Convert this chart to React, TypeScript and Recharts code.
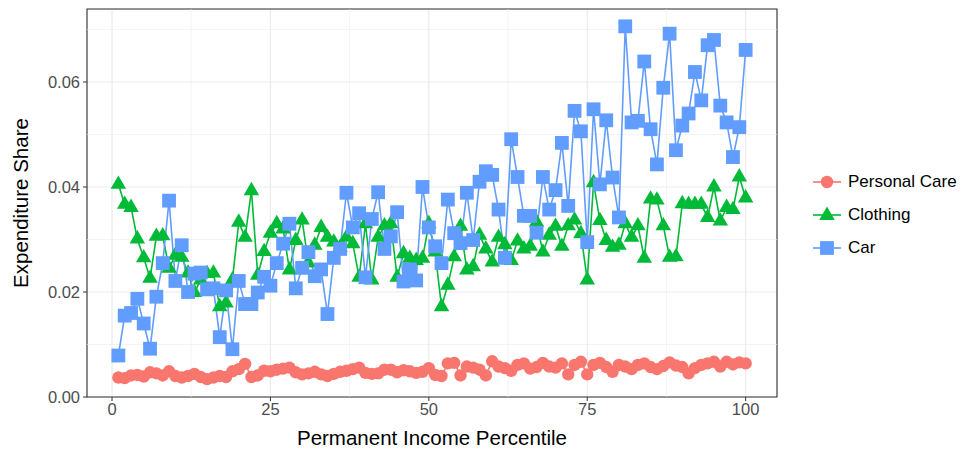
import React from 'react';
import {
  ComposedChart, Line, XAxis, YAxis, CartesianGrid, ReferenceLine, ReferenceArea,
} from 'recharts';

const percentiles = [
  1, 2, 3, 4, 5, 6, 7, 8, 9, 10, 11, 12, 13, 14, 15, 16, 17, 18, 19, 20,
  21, 22, 23, 24, 25, 26, 27, 28, 29, 30, 31, 32, 33, 34, 35, 36, 37, 38, 39, 40,
  41, 42, 43, 44, 45, 46, 47, 48, 49, 50, 51, 52, 53, 54, 55, 56, 57, 58, 59, 60,
  61, 62, 63, 64, 65, 66, 67, 68, 69, 70, 71, 72, 73, 74, 75, 76, 77, 78, 79, 80,
  81, 82, 83, 84, 85, 86, 87, 88, 89, 90, 91, 92, 93, 94, 95, 96, 97, 98, 99, 100,
];

const personalCare = [
  0.0037, 0.0036, 0.0041, 0.0042, 0.0039, 0.0047, 0.0045, 0.0041, 0.0049, 0.0040,
  0.0037, 0.0040, 0.0044, 0.0038, 0.0034, 0.0037, 0.0040, 0.0038, 0.0049, 0.0053,
  0.0063, 0.0038, 0.0041, 0.0050, 0.0049, 0.0052, 0.0054, 0.0056, 0.0047, 0.0043,
  0.0045, 0.0048, 0.0043, 0.0040, 0.0044, 0.0048, 0.0050, 0.0053, 0.0056, 0.0046,
  0.0044, 0.0045, 0.0052, 0.0052, 0.0047, 0.0051, 0.0049, 0.0046, 0.0048, 0.0055,
  0.0042, 0.0040, 0.0064, 0.0065, 0.0041, 0.0058, 0.0056, 0.0052, 0.0041, 0.0068,
  0.0058, 0.0055, 0.0050, 0.0061, 0.0064, 0.0054, 0.0057, 0.0065, 0.0058, 0.0056,
  0.0064, 0.0043, 0.0061, 0.0067, 0.0043, 0.0061, 0.0065, 0.0057, 0.0048, 0.0061,
  0.0058, 0.0053, 0.0061, 0.0064, 0.0057, 0.0053, 0.0059, 0.0066, 0.0060, 0.0057,
  0.0045, 0.0055, 0.0061, 0.0064, 0.0067, 0.0058, 0.0067, 0.0062, 0.0066, 0.0064,
];

const clothing = [
  0.0405, 0.0367, 0.0361, 0.0301, 0.0265, 0.0226, 0.0306, 0.0307, 0.0245, 0.0270,
  0.0266, 0.0236, 0.0199, 0.0223, 0.0235, 0.0236, 0.0172, 0.0179, 0.0223, 0.0333,
  0.0304, 0.0393, 0.0232, 0.0277, 0.0312, 0.0330, 0.0320, 0.0242, 0.0298, 0.0337,
  0.0255, 0.0289, 0.0323, 0.0304, 0.0295, 0.0285, 0.0304, 0.0292, 0.0228, 0.0330,
  0.0223, 0.0304, 0.0326, 0.0330, 0.0228, 0.0273, 0.0264, 0.0260, 0.0264, 0.0330,
  0.0276, 0.0172, 0.0213, 0.0267, 0.0325, 0.0242, 0.0248, 0.0308, 0.0282, 0.0257,
  0.0304, 0.0290, 0.0260, 0.0297, 0.0282, 0.0287, 0.0333, 0.0276, 0.0308, 0.0325,
  0.0287, 0.0326, 0.0337, 0.0311, 0.0223, 0.0408, 0.0336, 0.0298, 0.0285, 0.0289,
  0.0330, 0.0304, 0.0326, 0.0264, 0.0377, 0.0375, 0.0326, 0.0266, 0.0267, 0.0368,
  0.0367, 0.0367, 0.0367, 0.0342, 0.0400, 0.0335, 0.0361, 0.0357, 0.0419, 0.0379,
];

const car = [
  0.0079, 0.0155, 0.0160, 0.0187, 0.0140, 0.0092, 0.0191, 0.0255, 0.0374, 0.0221,
  0.0289, 0.0200, 0.0235, 0.0237, 0.0205, 0.0207, 0.0114, 0.0203, 0.0091, 0.0221,
  0.0177, 0.0177, 0.0199, 0.0229, 0.0212, 0.0255, 0.0292, 0.0330, 0.0207, 0.0246,
  0.0276, 0.0230, 0.0243, 0.0158, 0.0265, 0.0282, 0.0389, 0.0323, 0.0350, 0.0228,
  0.0339, 0.0390, 0.0282, 0.0306, 0.0352, 0.0220, 0.0243, 0.0222, 0.0400, 0.0323,
  0.0287, 0.0255, 0.0376, 0.0312, 0.0293, 0.0389, 0.0299, 0.0410, 0.0430, 0.0423,
  0.0357, 0.0265, 0.0491, 0.0419, 0.0345, 0.0345, 0.0313, 0.0419, 0.0357, 0.0394,
  0.0484, 0.0364, 0.0545, 0.0506, 0.0295, 0.0548, 0.0405, 0.0527, 0.0418, 0.0342,
  0.0706, 0.0523, 0.0526, 0.0639, 0.0510, 0.0443, 0.0589, 0.0692, 0.0470, 0.0517,
  0.0540, 0.0619, 0.0565, 0.0670, 0.0680, 0.0555, 0.0523, 0.0457, 0.0514, 0.0661,
];

const xTicks = [0, 25, 50, 75, 100];
const xMinor = [12.5, 37.5, 62.5, 87.5];
const yTicks = [0, 0.02, 0.04, 0.06];
const yMinor = [0.01, 0.03, 0.05, 0.07];
const X_DOMAIN: [number, number] = [-3.95, 104.95];
const Y_DOMAIN: [number, number] = [0, 0.0739];

const seriesNames = ['Personal Care', 'Clothing', 'Car'];
const COLORS = { pc: '#F8766D', cl: '#00BA38', car: '#619CFF' };

const data = percentiles.map((p, i) => ({
  pct: p,
  pc: personalCare[i],
  cl: clothing[i],
  car: car[i],
}));

const FONT = '"Liberation Sans", Arial, Helvetica, sans-serif';

const CircleDot = (props: any) => {
  const { cx, cy, index } = props;
  if (cx == null || cy == null) return <g key={`c${index}`} />;
  return <circle key={`c${index}`} cx={cx} cy={cy} r={6.2} fill={COLORS.pc} />;
};

const TriDot = (props: any) => {
  const { cx, cy, index } = props;
  if (cx == null || cy == null) return <g key={`t${index}`} />;
  const s = 15.5;
  const h = 13.4;
  const d = `M${cx},${cy - (2 * h) / 3} L${cx - s / 2},${cy + h / 3} L${cx + s / 2},${cy + h / 3} Z`;
  return <path key={`t${index}`} d={d} fill={COLORS.cl} />;
};

const SqDot = (props: any) => {
  const { cx, cy, index } = props;
  if (cx == null || cy == null) return <g key={`s${index}`} />;
  const s = 13.8;
  return <rect key={`s${index}`} x={cx - s / 2} y={cy - s / 2} width={s} height={s} fill={COLORS.car} />;
};

const LegendKey = ({ kind, color }: { kind: string; color: string }) => (
  <svg width={28} height={20} style={{ display: 'block' }}>
    <line x1={0} y1={10} x2={28} y2={10} stroke={color} strokeWidth={1.6} />
    {kind === 'circle' && <circle cx={14} cy={10} r={6.2} fill={color} />}
    {kind === 'tri' && <path d="M14,1.5 L6.25,14.9 L21.75,14.9 Z" fill={color} />}
    {kind === 'sq' && <rect x={7.1} y={3.1} width={13.8} height={13.8} fill={color} />}
  </svg>
);

const legendItems = [
  { name: seriesNames[0], kind: 'circle', color: COLORS.pc },
  { name: seriesNames[1], kind: 'tri', color: COLORS.cl },
  { name: seriesNames[2], kind: 'sq', color: COLORS.car },
];

const YLabel = (props: any) => {
  const vb = props.viewBox || {};
  const cx = 20;
  const cy = (vb.y ?? 9) + (vb.height ?? 388) / 2;
  return (
    <text
      x={cx}
      y={cy}
      transform={`rotate(-90, ${cx}, ${cy})`}
      textAnchor="middle"
      dominantBaseline="central"
      fontSize={20.5}
      fill="#000"
      fontFamily={FONT}
    >
      Expenditure Share
    </text>
  );
};

const XLabel = (props: any) => {
  const vb = props.viewBox || {};
  const cx = (vb.x ?? 87) + (vb.width ?? 690) / 2;
  return (
    <text x={cx} y={445} textAnchor="middle" fontSize={20.5} fill="#000" fontFamily={FONT}>
      Permanent Income Percentile
    </text>
  );
};

export default function App() {
  return (
    <div style={{ position: 'absolute', left: 0, top: 0, width: 963, height: 453, background: '#fff', fontFamily: FONT }}>
      <ComposedChart
        width={963}
        height={453}
        data={data}
        margin={{ top: 9, right: 186, bottom: 0, left: 0 }}
      >
        <CartesianGrid stroke="#EBEBEB" strokeWidth={1.2} />
        {xMinor.map((v) => (
          <ReferenceLine key={`xm${v}`} x={v} stroke="#EBEBEB" strokeWidth={0.6} />
        ))}
        {yMinor.map((v) => (
          <ReferenceLine key={`ym${v}`} y={v} stroke="#EBEBEB" strokeWidth={0.6} />
        ))}
        <XAxis
          type="number"
          dataKey="pct"
          domain={X_DOMAIN}
          ticks={xTicks}
          allowDataOverflow
          height={56}
          axisLine={false}
          tickLine={{ stroke: '#333333' }}
          tickSize={4}
          tickMargin={2}
          tick={{ fill: '#4D4D4D', fontSize: 16.5, fontFamily: FONT }}
          label={<XLabel />}
        />
        <YAxis
          type="number"
          domain={Y_DOMAIN}
          ticks={yTicks}
          allowDataOverflow
          width={87}
          axisLine={false}
          tickLine={{ stroke: '#333333' }}
          tickSize={4}
          tickMargin={3}
          tickFormatter={(v: number) => v.toFixed(2)}
          tick={{ fill: '#4D4D4D', fontSize: 16.5, fontFamily: FONT }}
          label={<YLabel />}
        />
        <Line dataKey="pc" stroke={COLORS.pc} strokeWidth={1.6} dot={false} activeDot={false} isAnimationActive={false} legendType="none" />
        <Line dataKey="cl" stroke={COLORS.cl} strokeWidth={1.6} dot={false} activeDot={false} isAnimationActive={false} legendType="none" />
        <Line dataKey="car" stroke={COLORS.car} strokeWidth={1.6} dot={false} activeDot={false} isAnimationActive={false} legendType="none" />
        <Line dataKey="pc" name={seriesNames[0]} stroke="none" dot={CircleDot} activeDot={false} isAnimationActive={false} />
        <Line dataKey="cl" name={seriesNames[1]} stroke="none" dot={TriDot} activeDot={false} isAnimationActive={false} />
        <Line dataKey="car" name={seriesNames[2]} stroke="none" dot={SqDot} activeDot={false} isAnimationActive={false} />
        <ReferenceArea
          x1={X_DOMAIN[0]}
          x2={X_DOMAIN[1]}
          y1={Y_DOMAIN[0]}
          y2={Y_DOMAIN[1]}
          fill="none"
          stroke="#333333"
          strokeWidth={1.1}
          ifOverflow="visible"
        />
      </ComposedChart>
      <div style={{ position: 'absolute', left: 813, top: 165.5 }}>
        {legendItems.map((it) => (
          <div key={it.name} style={{ display: 'flex', alignItems: 'center', height: 33 }}>
            <LegendKey kind={it.kind} color={it.color} />
            <span style={{ marginLeft: 7, fontSize: 17, color: '#000', fontFamily: FONT, whiteSpace: 'nowrap' }}>
              {it.name}
            </span>
          </div>
        ))}
      </div>
    </div>
  );
}
